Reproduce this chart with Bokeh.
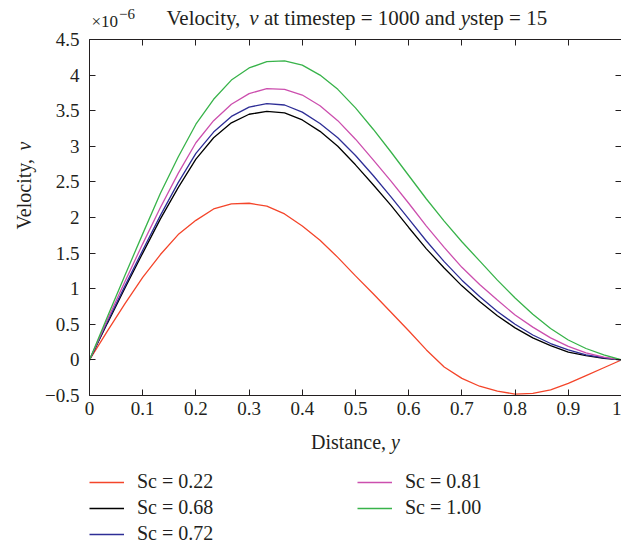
from bokeh.plotting import figure
from bokeh.models import (Range1d, LinearAxis, FixedTicker, CustomJSTickFormatter,
                          Label, Legend, LegendItem)
from bokeh.layouts import column, row
from bokeh.embed import file_html
from bokeh.resources import INLINE
import math

# ---------------- data (velocity in units of 1e-6) ----------------
distance = [0.0, 0.0333, 0.0667, 0.1, 0.1333, 0.1667, 0.2, 0.2333, 0.2667, 0.3,
            0.3333, 0.3667, 0.4, 0.4333, 0.4667, 0.5, 0.5333, 0.5667, 0.6, 0.6333,
            0.6667, 0.7, 0.7333, 0.7667, 0.8, 0.8333, 0.8667, 0.9, 0.9333, 0.9667, 1.0]

sc_labels = ["Sc = 0.22", "Sc = 0.68", "Sc = 0.72", "Sc = 0.81", "Sc = 1.00"]

v_sc022 = [0, 0.40, 0.79, 1.16, 1.48, 1.76, 1.96, 2.12, 2.19, 2.20, 2.16, 2.05, 1.88, 1.68,
           1.44, 1.18, 0.93, 0.67, 0.41, 0.14, -0.10, -0.26, -0.37, -0.44, -0.48, -0.47,
           -0.42, -0.33, -0.22, -0.11, 0]
v_sc068 = [0, 0.51, 1.01, 1.50, 1.98, 2.42, 2.82, 3.12, 3.33, 3.45, 3.49, 3.47, 3.37, 3.21,
           3.00, 2.74, 2.46, 2.17, 1.86, 1.56, 1.29, 1.04, 0.82, 0.62, 0.45, 0.31, 0.20,
           0.11, 0.06, 0.02, 0]
v_sc072 = [0, 0.53, 1.04, 1.54, 2.03, 2.49, 2.90, 3.20, 3.42, 3.55, 3.60, 3.58, 3.48, 3.32,
           3.12, 2.87, 2.59, 2.29, 1.98, 1.67, 1.38, 1.12, 0.89, 0.68, 0.50, 0.35, 0.23,
           0.14, 0.07, 0.03, 0]
v_sc081 = [0, 0.56, 1.10, 1.63, 2.14, 2.62, 3.05, 3.36, 3.59, 3.74, 3.81, 3.80, 3.72, 3.57,
           3.36, 3.10, 2.81, 2.51, 2.20, 1.88, 1.58, 1.30, 1.06, 0.84, 0.63, 0.46, 0.31,
           0.19, 0.10, 0.04, 0]
v_sc100 = [0, 0.60, 1.19, 1.77, 2.34, 2.85, 3.31, 3.66, 3.93, 4.10, 4.19, 4.20, 4.14, 4.00,
           3.80, 3.54, 3.24, 2.92, 2.59, 2.26, 1.95, 1.66, 1.39, 1.12, 0.87, 0.64, 0.44,
           0.28, 0.16, 0.07, 0]

x_ticks = [0, 0.1, 0.2, 0.3, 0.4, 0.5, 0.6, 0.7, 0.8, 0.9, 1.0]
y_ticks = [-0.5, 0, 0.5, 1, 1.5, 2, 2.5, 3, 3.5, 4, 4.5]

series = [v_sc022, v_sc068, v_sc072, v_sc081, v_sc100]
colors = ["#F4452A", "#000000", "#2E2E96", "#CC4FAE", "#38B34A"]

FONT = "Liberation Serif"
TXT = "#231F20"

# Times / Liberation Serif advance widths (1/1000 em)
ROMAN = {' ': 250, ',': 250, '.': 250, '=': 564, '×': 564, '−': 564,
         'V': 722, 'D': 722, 'S': 556, 'a': 444, 'c': 444, 'd': 500, 'e': 444,
         'i': 278, 'l': 278, 'm': 778, 'n': 500, 'o': 500, 'p': 500, 's': 389,
         't': 278, 'y': 500, 'v': 500}
for ch in "0123456789":
    ROMAN[ch] = 500
ITALIC = {'v': 444, 'y': 444}


def tw(s, size, italic=False):
    tbl = ITALIC if italic else ROMAN
    return sum(tbl.get(c, 500) for c in s) * size / 1000.0


# ---------------- layout geometry (canvas px) ----------------
W, H = 621, 545
HEAD_H = 30          # header strip (title, multiplier)
LEFT_W = 40          # strip holding the rotated y label
MAIN_TOP = 9         # main figure top border (top axis)
FRAME_H = 356
MAIN_BOTTOM = 32     # room for x tick labels
MAIN_H = MAIN_TOP + FRAME_H + MAIN_BOTTOM
FOOT_H = H - HEAD_H - MAIN_H
FRAME_LEFT = 89
MID = 0.36           # baseline -> text middle offset, in em


def aux_fig(w, h):
    f = figure(width=w, height=h, output_backend="svg", toolbar_location=None,
               x_axis_type=None, y_axis_type=None, x_range=Range1d(10, 11), y_range=Range1d(10, 11),
               min_border=0, min_border_left=0, min_border_right=0,
               min_border_top=0, min_border_bottom=0)
    f.grid.visible = False
    f.outline_line_color = None
    f.background_fill_color = "white"
    f.border_fill_color = "white"
    return f


def add_label(fig, fig_top, text, cx, cy, size, italic=False, rotated=False):
    # cx, cy: absolute canvas px of the text baseline start (y downward)
    if rotated:
        cx = cx - MID * size
    else:
        cy = cy - MID * size
    fig.add_layout(Label(x=cx, y=(fig_top + fig.height) - cy, x_units="screen", y_units="screen",
                         text=text, text_font=FONT, text_font_size=f"{size}px",
                         text_font_style="italic" if italic else "normal",
                         text_color=TXT, text_align="left", text_baseline="middle",
                         angle=math.pi / 2 if rotated else 0.0))


# ---------------- header ----------------
head = aux_fig(W, HEAD_H)
TS = 21
tx = 166.0
parts = [("Velocity,", False, True), ("v", True, True), ("at timestep = 1000 and", False, True),
         ("y", True, False), ("step = 15", False, False)]
for txt, it, space_after in parts:
    add_label(head, 0, txt, tx, 25, TS, italic=it)
    tx += tw(txt, TS, it) + (tw(" ", TS) if space_after else 0)
add_label(head, 0, "×10", 91, 27, 17)
add_label(head, 0, "−6", 91 + tw("×10", 17) + 1, 19, 15)

# ---------------- main plot ----------------
p = figure(width=W - LEFT_W, height=MAIN_H, output_backend="svg", toolbar_location=None,
           x_range=Range1d(0, 1), y_range=Range1d(-0.5, 4.5),
           min_border_left=FRAME_LEFT - LEFT_W, min_border_right=0,
           min_border_top=MAIN_TOP, min_border_bottom=MAIN_BOTTOM)
p.grid.visible = False
p.outline_line_color = None
p.background_fill_color = "white"
p.border_fill_color = "white"

for ys, c in zip(series, colors):
    p.line(distance, ys, line_color=c, line_width=1.3)

fmt = CustomJSTickFormatter(code="""
    const s = (Math.round(tick * 10) / 10).toString();
    return s.replace('-', '\u2212');
""")
blank = CustomJSTickFormatter(code="return '';")


def style_axis(ax, ticks, labels):
    ax.ticker = FixedTicker(ticks=ticks)
    ax.major_tick_in = 6
    ax.major_tick_out = 0
    ax.minor_tick_line_color = None
    ax.axis_line_color = TXT
    ax.major_tick_line_color = TXT
    ax.axis_line_width = 1
    if labels:
        ax.formatter = fmt
        ax.major_label_text_font = FONT
        ax.major_label_text_font_size = "19px"
        ax.major_label_text_color = TXT
    else:
        ax.formatter = blank
        ax.major_label_text_font_size = "1px"
        ax.major_label_standoff = 0


style_axis(p.xaxis[0], x_ticks, True)
p.xaxis[0].major_label_standoff = 6
style_axis(p.yaxis[0], y_ticks, True)
p.yaxis[0].major_label_standoff = 10

top_ax = LinearAxis()
style_axis(top_ax, x_ticks, False)
p.add_layout(top_ax, "above")
right_ax = LinearAxis()
style_axis(right_ax, y_ticks, False)
p.add_layout(right_ax, "right")

# ---------------- left strip: rotated y label ----------------
left = aux_fig(LEFT_W, MAIN_H)
XS = 20
yw = tw("Velocity,", XS) + tw(" ", XS) + tw("v", XS, True)
yc = HEAD_H + MAIN_TOP + FRAME_H / 2.0
y0 = yc + yw / 2.0
add_label(left, HEAD_H, "Velocity,", 31, y0, XS, rotated=True)
add_label(left, HEAD_H, "v", 31, y0 - tw("Velocity,", XS) - tw(" ", XS), XS, italic=True,
          rotated=True)

# ---------------- footer: x label and legend ----------------
foot = aux_fig(W, FOOT_H)
FOOT_TOP = HEAD_H + MAIN_H
xw = tw("Distance,", XS) + tw(" ", XS) + tw("y", XS, True)
x0 = (FRAME_LEFT + W) / 2.0 - xw / 2.0
add_label(foot, FOOT_TOP, "Distance,", x0, 449, XS)
add_label(foot, FOOT_TOP, "y", x0 + tw("Distance,", XS) + tw(" ", XS), 449, XS, italic=True)

# legend proxies: the same series, drawn outside the footer's visible range
proxies = [foot.line(distance, ys, line_color=c, line_width=1.6) for ys, c in zip(series, colors)]

common = dict(orientation="vertical", glyph_width=35, glyph_height=20, label_height=20,
              label_standoff=13, spacing=3, padding=0, margin=0, border_line_color=None,
              background_fill_alpha=0, label_text_font=FONT, label_text_font_size="20px",
              label_text_color=TXT)
leg1 = Legend(items=[LegendItem(label=sc_labels[i], renderers=[proxies[i]]) for i in range(3)],
              location=(FRAME_LEFT, 0), **common)
leg2 = Legend(items=[LegendItem(label=sc_labels[i], renderers=[proxies[i]]) for i in range(3, 5)],
              location=(357, 26), **common)
foot.add_layout(leg1)
foot.add_layout(leg2)

layout = column(head, row(left, p), foot)
open("out.html", "w").write(file_html(layout, INLINE))
